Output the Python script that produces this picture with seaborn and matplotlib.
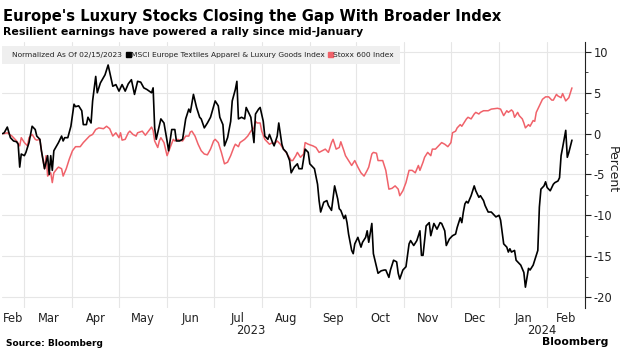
import matplotlib
matplotlib.use("Agg")
import matplotlib.pyplot as plt
import matplotlib.dates as mdates
import matplotlib.transforms as mtransforms
from matplotlib.ticker import FixedLocator, MultipleLocator, NullFormatter
from matplotlib.lines import Line2D
import seaborn as sns
import pandas as pd

# ---------------- data (days since 2023-02-15, percent change) ----------------
start_date = "2023-02-15"
end_view = "2024-02-25 10:00"

lux_day = [0, 1, 3, 5, 7, 9, 10, 11, 12, 14,
           15, 17, 19, 21, 22, 24, 25, 27, 29, 30,
           31, 32, 33, 36, 38, 39, 40, 42, 44, 46,
           47, 49, 51, 52, 54, 55, 57, 58, 60, 61,
           63, 66, 68, 71, 73, 75, 77, 79, 81, 83,
           85, 87, 89, 91, 93, 96, 97, 98, 99, 102,
           104, 106, 107, 109, 111, 112, 114, 116, 118, 120,
           121, 123, 125, 127, 128, 130, 132, 134, 137, 139,
           140, 142, 143, 145, 147, 148, 150, 151, 152, 154,
           156, 157, 159, 160, 162, 163, 165, 166, 168, 169,
           171, 172, 174, 175, 177, 178, 180, 181, 183, 185,
           186, 188, 190, 191, 193, 195, 197, 198, 200, 201,
           203, 204, 205, 207, 209, 210, 212, 214, 216, 217,
           218, 220, 221, 222, 223, 225, 226, 227, 229, 231,
           232, 234, 235, 236, 238, 239, 241, 242, 244, 246,
           247, 249, 250, 252, 254, 255, 256, 258, 260, 262,
           263, 265, 267, 269, 270, 271, 273, 275, 276, 278,
           280, 282, 283, 285, 286, 288, 290, 292, 293, 295,
           296, 297, 298, 299, 300, 302, 304, 305, 307, 308,
           310, 311, 313, 315, 316, 318, 320, 321, 323, 325,
           326, 327, 328, 330, 331, 333, 334, 336, 337, 339,
           340, 342, 343, 344, 345, 346, 347, 349, 350, 351,
           353, 355, 356, 358, 359, 360, 361, 363, 364, 365,
           367]
lux_pct = [0.0, 0.1, 0.8, -0.5, -0.9, -1.0, -1.3, -4.1, -2.5, -2.7,
           -2.3, -1.1, 0.9, 0.5, -0.3, -0.7, -2.1, -4.3, -2.7, -5.0,
           -2.7, -4.5, -2.1, -1.1, -0.3, -0.9, -0.5, -0.5, 0.9, 3.6,
           3.3, 3.4, 2.8, 1.1, 1.1, 2.0, 1.3, 4.0, 7.0, 5.0,
           6.2, 7.2, 8.4, 5.8, 6.0, 5.2, 6.0, 5.2, 6.1, 6.6,
           4.8, 6.4, 6.3, 5.6, 5.4, 5.0, 5.6, 0.7, -0.7, 1.8,
           1.3, -0.9, -2.1, 0.5, 0.5, -0.9, -0.9, -0.7, 1.8, 3.0,
           2.6, 4.8, 3.2, 2.0, 1.8, 0.7, 1.3, 2.0, 4.0, 3.4,
           2.0, 1.1, -1.5, -0.5, 1.5, 4.0, 5.4, 6.4, 1.8, 2.0,
           1.8, 3.2, 2.4, 2.0, -1.1, 2.4, 3.0, 3.2, 1.5, -0.3,
           -0.7, -0.1, -1.1, -1.5, -0.3, 1.3, -1.3, -1.9, -2.3, -3.3,
           -4.8, -4.1, -3.7, -4.3, -4.3, -1.9, -2.3, -3.7, -4.1, -4.3,
           -6.2, -8.2, -9.6, -8.4, -8.2, -8.8, -9.4, -6.4, -8.0, -9.2,
           -9.4, -10.4, -10.0, -10.9, -12.3, -14.3, -14.7, -13.5, -12.7, -13.9,
           -13.3, -12.7, -11.9, -13.3, -11.0, -14.7, -16.3, -17.1, -16.8, -16.7,
           -16.7, -17.6, -16.7, -15.5, -15.7, -17.1, -17.8, -16.7, -16.3, -13.5,
           -13.1, -13.7, -13.1, -11.9, -14.9, -14.9, -11.3, -10.9, -12.5, -11.0,
           -11.7, -10.9, -11.0, -11.9, -13.7, -12.9, -12.5, -12.3, -11.5, -10.3,
           -10.9, -9.6, -8.6, -8.3, -8.5, -7.6, -6.4, -7.0, -7.8, -7.6,
           -8.2, -8.8, -9.6, -9.6, -9.8, -10.2, -10.0, -10.6, -13.5, -13.9,
           -14.5, -14.1, -14.5, -14.3, -15.5, -15.9, -16.1, -17.0, -18.8, -16.5,
           -16.7, -16.1, -15.5, -14.9, -14.3, -9.0, -6.8, -6.4, -5.9, -6.6,
           -7.0, -6.2, -6.0, -5.8, -5.4, -2.7, -1.7, 0.4, -2.9, -2.3,
           -0.8]

stoxx_day = [0, 1, 3, 6, 8, 9, 11, 12, 14, 16,
             17, 19, 21, 22, 24, 25, 27, 28, 29, 31,
             32, 33, 35, 36, 38, 39, 41, 43, 45, 47,
             50, 52, 54, 56, 58, 60, 62, 65, 67, 69,
             71, 73, 75, 76, 77, 79, 81, 82, 84, 86,
             87, 90, 92, 94, 96, 97, 98, 100, 101, 102,
             104, 105, 106, 108, 110, 111, 113, 114, 116, 118,
             120, 121, 122, 124, 126, 128, 130, 132, 134, 136,
             137, 139, 141, 143, 145, 147, 149, 150, 152, 153,
             156, 158, 160, 162, 163, 164, 166, 167, 169, 171,
             172, 174, 175, 177, 179, 181, 182, 184, 186, 187,
             189, 190, 192, 194, 195, 197, 200, 202, 204, 206,
             208, 210, 212, 213, 215, 217, 218, 220, 221, 223,
             225, 227, 229, 231, 233, 235, 236, 238, 239, 241,
             242, 245, 247, 249, 251, 253, 255, 256, 258, 260,
             262, 264, 266, 268, 269, 271, 272, 274, 276, 277,
             279, 281, 283, 285, 287, 289, 290, 292, 293, 295,
             296, 298, 299, 300, 302, 304, 305, 307, 308, 310,
             313, 315, 319, 321, 322, 323, 325, 326, 328, 329,
             330, 332, 333, 335, 336, 337, 339, 340, 342, 343,
             344, 346, 348, 350, 352, 354, 355, 357, 358, 360,
             361, 363, 365, 367]
stoxx_pct = [0.0, 0.0, 0.1, -0.3, -0.7, -0.9, -1.5, -0.5, -1.1, -1.5,
             -0.5, -0.1, -0.7, -0.8, -0.7, -2.1, -4.3, -2.7, -5.2, -4.8,
             -6.0, -4.8, -4.3, -4.1, -4.3, -5.2, -4.3, -3.1, -2.1, -1.6,
             -1.6, -1.1, -0.7, -0.3, -0.1, 0.5, 0.7, 0.6, 0.9, 0.6,
             -0.3, 0.1, -0.5, 0.1, -0.8, -0.7, 0.1, 0.3, -0.1, -0.3,
             0.1, 0.3, -0.2, 0.3, 0.8, 0.4, -0.9, -1.7, -0.9, -0.5,
             -1.1, -1.9, -2.7, -1.7, -0.7, -0.9, -0.7, -0.8, -0.9, -0.3,
             -0.3, 0.2, 0.3, -0.3, -1.3, -2.1, -2.5, -2.6, -1.9, -0.9,
             -0.7, -1.1, -2.3, -3.7, -3.5, -2.7, -1.7, -1.3, -1.6, -1.1,
             -0.7, -0.3, 0.3, 0.7, 1.5, 1.3, 1.3, 0.3, -0.7, -1.1,
             -1.3, -1.1, -1.3, -0.9, -1.3, -1.9, -2.1, -2.7, -3.3, -3.3,
             -2.7, -2.3, -2.9, -2.5, -1.1, -1.3, -1.5, -1.7, -2.3, -2.1,
             -1.9, -2.3, -1.1, -0.7, -1.9, -1.7, -1.0, -2.1, -2.7, -3.3,
             -3.9, -3.3, -4.1, -4.8, -5.2, -4.5, -4.1, -2.5, -2.3, -2.4,
             -3.3, -3.3, -4.5, -6.8, -6.7, -6.4, -6.8, -7.6, -7.0, -6.0,
             -4.5, -4.5, -4.8, -3.9, -4.5, -3.5, -2.9, -2.3, -2.7, -1.9,
             -1.9, -1.5, -1.1, -1.3, -1.6, -1.1, 0.1, 0.3, 0.7, 1.1,
             0.9, 1.5, 1.8, 2.0, 1.8, 2.4, 2.6, 2.4, 2.6, 2.8,
             2.8, 3.0, 3.1, 3.0, 2.6, 2.2, 2.8, 2.6, 2.9, 2.7,
             2.0, 2.6, 2.2, 1.8, 1.3, 0.7, 1.1, 0.9, 1.6, 1.5,
             2.6, 3.4, 4.2, 4.5, 4.5, 4.1, 4.1, 4.8, 4.6, 4.4,
             4.9, 4.0, 4.4, 5.6]

y_ticks = [-20, -15, -10, -5, 0, 5, 10]
lux_name = "MSCI Europe Textiles Apparel & Luxury Goods Index"
stoxx_name = "Stoxx 600 Index"
legend_note = "Normalized As Of 02/15/2023"
title = "Europe's Luxury Stocks Closing the Gap With Broader Index"
subtitle = "Resilient earnings have powered a rally since mid-January"

# ---------------- frames ----------------
t0 = pd.Timestamp(start_date)
lux = pd.DataFrame({"date": t0 + pd.to_timedelta(lux_day, unit="D"), "pct": lux_pct})
stoxx = pd.DataFrame({"date": t0 + pd.to_timedelta(stoxx_day, unit="D"), "pct": stoxx_pct})

RED = "#f0626a"
GRID = "#e6e6e6"
INK = "#222222"

sns.set_theme(style="white")
plt.rcParams["font.family"] = ["DejaVu Sans"]

fig = plt.figure(figsize=(6.24, 3.51), dpi=100)
ax = fig.add_axes([0.003, 0.1225, 0.9345, 0.7575])

sns.lineplot(data=stoxx, x="date", y="pct", color=RED, lw=1.1, ax=ax)
sns.lineplot(data=lux, x="date", y="pct", color="black", lw=1.2, ax=ax)

x_lo = t0 - pd.Timedelta(hours=12)
x_hi = pd.Timestamp(end_view)
ax.set_xlim(x_lo, x_hi)
ax.set_ylim(-21.35, 11.2)

# month gridlines at month starts, labels centred on visible month span
month_starts = pd.date_range("2023-03-01", "2024-02-01", freq="MS")
edges = [x_lo] + list(month_starts) + [x_hi]
centers = [a + (b - a) / 2 for a, b in zip(edges[:-1], edges[1:])]
labels = [c.strftime("%b") for c in edges[:-1]]
labels[0] = "Feb"
ax.xaxis.set_major_locator(FixedLocator(mdates.date2num(centers)))
ax.set_xticklabels(labels)
ax.xaxis.set_minor_locator(FixedLocator(mdates.date2num(month_starts)))
ax.grid(which="minor", axis="x", color=GRID, lw=0.8)
ax.grid(which="major", axis="x", visible=False)
ax.tick_params(axis="x", which="both", length=0, labelsize=8.3, colors=INK, pad=3)

# year labels centred on each year's visible span
yr_tr = mtransforms.blended_transform_factory(ax.transData, ax.transAxes)
jan1 = pd.Timestamp("2024-01-01")
for a, b, yr in [(x_lo, jan1, "2023"), (jan1, x_hi, "2024")]:
    ax.text(mdates.date2num(a + (b - a) / 2), -0.062, yr, transform=yr_tr,
            ha="center", va="top", fontsize=8.3, color=INK)

# y axis on the right
ax.yaxis.tick_right()
ax.set_yticks(y_ticks)
ax.set_yticklabels([str(v) for v in y_ticks])
ax.yaxis.set_minor_locator(MultipleLocator(2.5))
ax.yaxis.set_minor_formatter(NullFormatter())
ax.grid(which="major", axis="y", color=GRID, lw=0.8)
ax.tick_params(axis="y", which="major", length=4, width=0.8, colors=INK,
               labelsize=8.3, pad=2, right=True, left=False)
ax.tick_params(axis="y", which="minor", length=2, width=0.6, color=INK,
               right=True, left=False)
ax.set_xlabel("")
ax.set_ylabel("")
for s in ["top", "left", "bottom"]:
    ax.spines[s].set_visible(False)
ax.spines["right"].set_color(INK)
ax.spines["right"].set_linewidth(0.8)

fig.text(612 / 624, 1 - 170 / 351, "Percent", rotation=270, ha="center", va="center",
         fontsize=9, color=INK)

# legend band
handles = [Line2D([], [], ls="none"),
           Line2D([], [], ls="none", marker="s", color="black", markersize=3.6),
           Line2D([], [], ls="none", marker="s", color=RED, markersize=3.6)]
leg = ax.legend(handles, [legend_note, lux_name, stoxx_name], ncol=3,
                loc="upper left", bbox_to_anchor=(0.0, 0.985), frameon=True,
                fancybox=False, facecolor="#efefef", edgecolor="none", framealpha=1,
                fontsize=5.4, handlelength=0.45, handletextpad=0.2,
                columnspacing=0.5, borderpad=0.75, borderaxespad=0)
for t in leg.get_texts():
    t.set_color(INK)

# titles and footer
fig.text(3 / 624, 1 - 17 / 351, title, fontsize=10.6, fontweight="bold",
         ha="left", va="center", color="black")
fig.text(3 / 624, 1 - 32 / 351, subtitle, fontsize=7.9, fontweight="bold",
         ha="left", va="center", color="black")
fig.text(6 / 624, 1 - 344 / 351, "Source: Bloomberg", fontsize=6.5, fontweight="bold",
         ha="left", va="center", color="black")
fig.text(608 / 624, 1 - 342 / 351, "Bloomberg", fontsize=7.8, fontweight="bold",
         ha="right", va="center", color="black")

fig.savefig("out.png", dpi=100)
